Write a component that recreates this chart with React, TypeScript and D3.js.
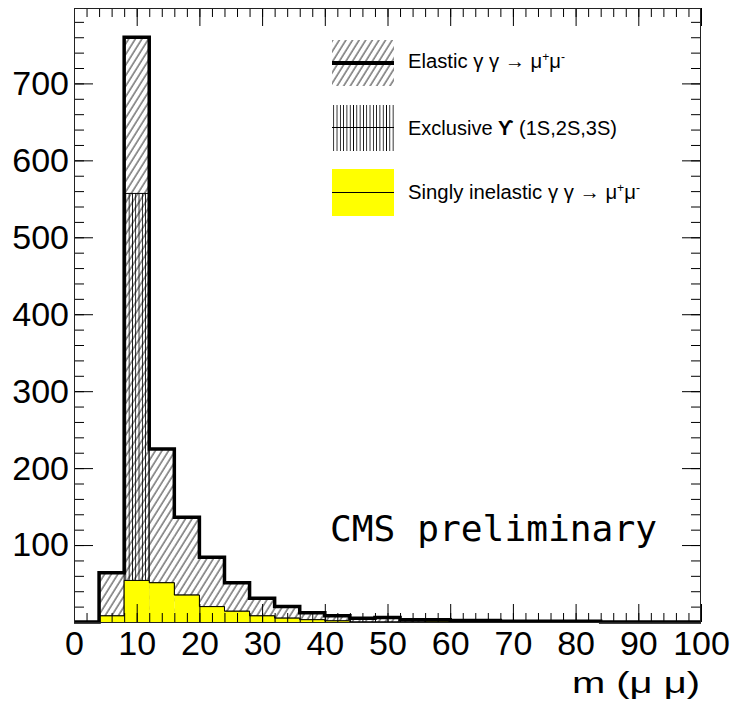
import React, { useEffect, useRef } from "react";
import * as d3 from "d3";

// 4 GeV bins of m(mu mu)
const binEdges = [0, 4, 8, 12, 16, 20, 24, 28, 32, 36, 40, 44, 48, 52, 56, 60, 64, 68, 72, 76, 80, 84, 88, 92, 96, 100];
// stacked components (events per bin)
const inelastic = [0, 8, 54, 51, 35, 20, 14, 8, 5, 3, 1.5, 0, 0, 0, 1, 0, 0, 0, 0, 0, 0, 0, 0, 0, 0];
const upsilon = [0, 0, 503, 0, 0, 0, 0, 0, 0, 0, 0, 0, 0, 0, 0, 0, 0, 0, 0, 0, 0, 0, 0, 0, 0];
const elastic = [0, 56, 203, 174, 101, 64, 37, 23, 15, 9, 6.5, 5, 6, 3, 2, 2, 2, 1, 1, 1, 1, 0, 0, 0, 0];

const xLabels = [0, 10, 20, 30, 40, 50, 60, 70, 80, 90, 100];
const yLabels = [100, 200, 300, 400, 500, 600, 700];

const FONT = "'Liberation Sans', Arial, Helvetica, sans-serif";

const App = () => {
  const ref = useRef<SVGSVGElement>(null);

  useEffect(() => {
    const svg = d3.select(ref.current);
    svg.selectAll("*").remove();

    const left = 74, right = 701, top = 8, bottom = 622;

    // cumulative stacks, as ROOT's THStack draws them
    const inelCum = inelastic;
    const upsCum = inelastic.map((v, i) => v + upsilon[i]);
    const total = upsCum.map((v, i) => v + elastic[i]);

    const x = d3.scaleLinear().domain([0, 100]).range([left, right]);
    const y = d3.scaleLinear().domain([0, d3.max(total)! * 1.05]).range([bottom, top]);

    const defs = svg.append("defs");
    const diag = defs
      .append("pattern")
      .attr("id", "diag")
      .attr("patternUnits", "userSpaceOnUse")
      .attr("width", 5.6)
      .attr("height", 10)
      .attr("patternTransform", "rotate(32)");
    diag.append("line").attr("x1", 1).attr("x2", 1).attr("y1", 0).attr("y2", 10)
      .attr("stroke", "#000").attr("stroke-width", 0.85);
    const vert = defs
      .append("pattern")
      .attr("id", "vert")
      .attr("patternUnits", "userSpaceOnUse")
      .attr("width", 3.3)
      .attr("height", 10);
    vert.append("line").attr("x1", 0.5).attr("x2", 0.5).attr("y1", 0).attr("y2", 10)
      .attr("stroke", "#000").attr("stroke-width", 1).attr("shape-rendering", "crispEdges");

    const bins = d3.range(binEdges.length - 1);

    const stepPath = (vals: number[]) => {
      const pts: [number, number][] = [];
      vals.forEach((v, i) => {
        pts.push([x(binEdges[i]), y(v)]);
        pts.push([x(binEdges[i + 1]), y(v)]);
      });
      return d3.line()(pts);
    };

    // elastic (top of stack) hatched
    svg.append("g").selectAll("rect").data(bins).enter().append("rect")
      .attr("x", (i) => x(binEdges[i]))
      .attr("width", (i) => x(binEdges[i + 1]) - x(binEdges[i]))
      .attr("y", (i) => y(total[i]))
      .attr("height", (i) => y(0) - y(total[i]))
      .attr("fill", "url(#diag)");

    // exclusive upsilon, vertical hatch
    svg.append("g").selectAll("rect").data(bins).enter().append("rect")
      .attr("x", (i) => x(binEdges[i]))
      .attr("width", (i) => x(binEdges[i + 1]) - x(binEdges[i]))
      .attr("y", (i) => y(upsCum[i]))
      .attr("height", (i) => y(0) - y(upsCum[i]))
      .attr("fill", "url(#vert)");
    svg.append("path").attr("d", stepPath(upsCum)).attr("fill", "none")
      .attr("stroke", "#000").attr("stroke-width", 1);

    // singly inelastic, yellow
    svg.append("g").selectAll("rect").data(bins).enter().append("rect")
      .attr("x", (i) => x(binEdges[i]))
      .attr("width", (i) => x(binEdges[i + 1]) - x(binEdges[i]))
      .attr("y", (i) => y(inelCum[i]))
      .attr("height", (i) => y(0) - y(inelCum[i]))
      .attr("fill", "#ffff00");
    svg.append("path").attr("d", stepPath(inelCum)).attr("fill", "none")
      .attr("stroke", "#000").attr("stroke-width", 1);

    // thick outline of the whole stack
    svg.append("path").attr("d", stepPath(total)).attr("fill", "none")
      .attr("stroke", "#000").attr("stroke-width", 3.5).attr("stroke-linejoin", "miter");

    // axes, ticks on all four sides pointing inward
    const xMinor = d3.range(0, 101, 2);
    const yMinor = d3.range(0, 800, 20);
    const noText = () => "";
    const clean = (g: any) => g.select(".domain").remove();

    svg.append("g").attr("transform", `translate(0,${bottom})`)
      .call(d3.axisBottom(x).tickValues(xMinor).tickSize(-9).tickFormat(noText)).call(clean);
    const gx = svg.append("g").attr("transform", `translate(0,${bottom})`)
      .call(d3.axisBottom(x).tickValues(xLabels).tickSize(-18).tickPadding(9).tickFormat(d3.format("d"))).call(clean);
    gx.attr("font-family", FONT).attr("font-size", 34);

    svg.append("g").attr("transform", `translate(0,${top})`)
      .call(d3.axisTop(x).tickValues(xMinor).tickSize(-9).tickFormat(noText)).call(clean);
    svg.append("g").attr("transform", `translate(0,${top})`)
      .call(d3.axisTop(x).tickValues(xLabels).tickSize(-18).tickFormat(noText)).call(clean);

    svg.append("g").attr("transform", `translate(${left},0)`)
      .call(d3.axisLeft(y).tickValues(yMinor).tickSize(-10).tickFormat(noText)).call(clean);
    const gy = svg.append("g").attr("transform", `translate(${left},0)`)
      .call(d3.axisLeft(y).tickValues(yLabels).tickSize(-19).tickPadding(5).tickFormat(d3.format("d"))).call(clean);
    gy.attr("font-family", FONT).attr("font-size", 34);

    svg.append("g").attr("transform", `translate(${right},0)`)
      .call(d3.axisRight(y).tickValues(yMinor).tickSize(-10).tickFormat(noText)).call(clean);
    svg.append("g").attr("transform", `translate(${right},0)`)
      .call(d3.axisRight(y).tickValues(yLabels).tickSize(-19).tickFormat(noText)).call(clean);

    // frame
    svg.append("rect").attr("x", left + 0.5).attr("y", top + 0.5)
      .attr("width", right - left - 1).attr("height", bottom - top)
      .attr("fill", "none").attr("stroke", "#222").attr("stroke-width", 1);
  }, []);

  const sup = (s: string) => (
    <tspan baselineShift="super" fontSize={12}>{s}</tspan>
  );

  return (
    <svg
      width={731}
      height={709}
      style={{ position: "absolute", left: 0, top: 0, background: "#fff", display: "block" }}
    >
      <g ref={ref} />
      {/* legend */}
      <g fontFamily={FONT} fontSize={20} fill="#000">
        <rect x={332} y={40} width={62} height={46} fill="url(#diag)" />
        <line x1={332} x2={394} y1={63} y2={63} stroke="#000" strokeWidth={4} />
        <text x={408} y={68} textLength={157} lengthAdjust="spacingAndGlyphs">
          Elastic γ γ → μ{sup("+")}μ{sup("-")}
        </text>

        <rect x={332} y={105} width={62} height={46} fill="url(#vert)" />
        <line x1={332} x2={394} y1={127.5} y2={127.5} stroke="#000" strokeWidth={1} />
        <text x={408} y={135} textLength={209} lengthAdjust="spacingAndGlyphs">
          Exclusive <tspan fontWeight="bold">ϒ</tspan>  (1S,2S,3S)
        </text>

        <rect x={332} y={169} width={62} height={47} fill="#ffff00" />
        <line x1={332} x2={394} y1={192.5} y2={192.5} stroke="#000" strokeWidth={1} />
        <text x={408} y={199} textLength={232} lengthAdjust="spacingAndGlyphs">
          Singly inelastic γ γ → μ{sup("+")}μ{sup("-")}
        </text>
      </g>
      <text x={330} y={541} fontFamily="'DejaVu Sans Mono', monospace" fontSize={35}
        textLength={327} lengthAdjust="spacingAndGlyphs">
        CMS preliminary
      </text>
      <text x={572} y={693} fontFamily={FONT} fontSize={30} textLength={128} lengthAdjust="spacingAndGlyphs">
        m (μ μ)
      </text>
    </svg>
  );
};

export default App;
